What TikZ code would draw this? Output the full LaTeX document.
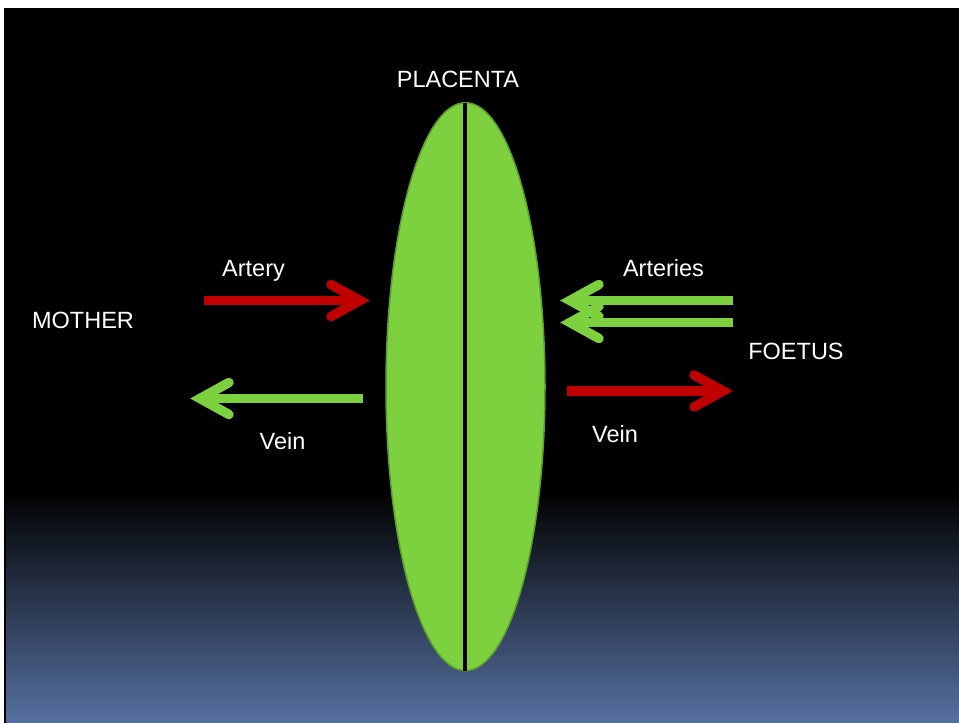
\documentclass[tikz,border=0pt]{standalone}
\usepackage{fontspec}
\setmainfont{Liberation Sans}
\definecolor{ArteryRed}{RGB}{192,0,0}
\definecolor{PlacGreen}{RGB}{125,209,62}
\definecolor{PlacEdge}{RGB}{92,158,44}
\definecolor{SlideBlue}{RGB}{86,112,160}
\usetikzlibrary{calc}
\tikzset{
  shaft/.style={line width=9.5pt,line cap=butt},
  barb/.style={line width=9.5pt,line cap=round,line join=miter},
  label/.style={text=white,anchor=base,inner sep=0pt,font=\fontsize{23.5}{28}\selectfont}
}

\begin{document}
\begin{tikzpicture}[x=1pt,y=-1pt]
  \useasboundingbox (0,0) rectangle (959,723);
  % slide background
  \fill[white] (0,0) rectangle (959,723);
  \fill[black] (4,8) rectangle (959,723);
  \shade[top color=black,bottom color=SlideBlue] (6.5,490) rectangle (959,723);

  % placenta
  \fill[PlacGreen,draw=PlacEdge,line width=1.5pt] (465.5,386.7) ellipse [x radius=79.5,y radius=284];
  \coordinate (pTop) at (465,103);
  \coordinate (pBot) at (465,670.5);
  \draw[black,line width=4.5pt] (pTop) -- (pBot);

  % mother side
  \coordinate (mArtS) at (204,300.5);
  \coordinate (mArtT) at (360,300.5);
  \draw[shaft,ArteryRed] (mArtS) -- (mArtT);
  \draw[barb,ArteryRed] ($(mArtT)+(-29,-16)$) -- (mArtT) -- ($(mArtT)+(-29,16)$);

  \coordinate (mVeinS) at (363,398.5);
  \coordinate (mVeinT) at (200,398.5);
  \draw[shaft,PlacGreen] (mVeinS) -- (mVeinT);
  \draw[barb,PlacGreen] ($(mVeinT)+(29,-16)$) -- (mVeinT) -- ($(mVeinT)+(29,16)$);

  % foetus side
  \coordinate (fArtAS) at (733,300.5);
  \coordinate (fArtAT) at (570,300.5);
  \coordinate (fArtBS) at (733,322.5);
  \coordinate (fArtBT) at (570,322.5);
  \draw[shaft,PlacGreen] (fArtAS) -- (fArtAT);
  \draw[shaft,PlacGreen] (fArtBS) -- (fArtBT);
  \draw[barb,PlacGreen] ($(fArtAT)+(29,-16)$) -- (fArtAT) -- ($(fArtAT)+(29,16)$);
  \draw[barb,PlacGreen] ($(fArtBT)+(29,-16)$) -- (fArtBT) -- ($(fArtBT)+(29,16)$);

  \coordinate (fVeinS) at (567,391);
  \coordinate (fVeinT) at (723,391);
  \draw[shaft,ArteryRed] (fVeinS) -- (fVeinT);
  \draw[barb,ArteryRed] ($(fVeinT)+(-29,-16)$) -- (fVeinT) -- ($(fVeinT)+(-29,16)$);

  % labels
  \node[label] (placenta) at (458,87) {PLACENTA};
  \node[label] (mother) at (83,328) {MOTHER};
  \node[label] (artery) at (253.5,276) {Artery};
  \node[label] (mvein) at (282.5,449) {Vein};
  \node[label] (arteries) at (663.5,276) {Arteries};
  \node[label] (foetus) at (796,359) {FOETUS};
  \node[label] (fvein) at (615,442) {Vein};
\end{tikzpicture}
\end{document}
